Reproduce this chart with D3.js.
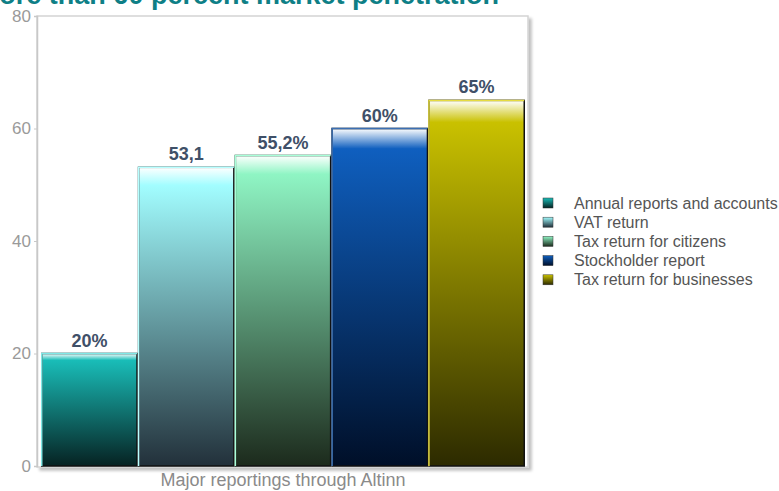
<!DOCTYPE html>
<html>
<head>
<meta charset="utf-8">
<script src="https://cdn.jsdelivr.net/npm/d3@7"></script>
<style>
  body { margin: 0; background: #fff; }
  text { font-family: "Liberation Sans", Arial, sans-serif; }
</style>
</head>
<body>
<svg id="chart" width="779" height="491"></svg>
<script>
// data
const categories = ['Annual reports and accounts', 'VAT return', 'Tax return for citizens', 'Stockholder report', 'Tax return for businesses'];
const values = [20, 53.1, 55.2, 60, 65];
const valueLabels = ['20%', '53,1', '55,2%', '60%', '65%'];
const yTicks = [0, 20, 40, 60, 80];
const xTitle = 'Major reportings through Altinn';
const chartTitle = 'More than 60 percent market penetration';

// colour per bar: top, bottom, edge
const colors = [
	{top: '#19bdb8', bottom: '#062222', edge: '#7fe8e6'},
	{top: '#a2fdff', bottom: '#22303a', edge: '#b8ffff'},
	{top: '#8ff5c4', bottom: '#1c2a1c', edge: '#a8ffd8'},
	{top: '#0f5fbf', bottom: '#000f28', edge: '#3b6fb3'},
	{top: '#c9c100', bottom: '#2c2a00', edge: '#e6dc40'}
];

const svg = d3.select('#chart');
const margin = {left: 37, right: 528, top: 16, bottom: 466};

const x = d3.scaleBand().domain(categories).range([41, 525]).padding(0);
const y = d3.scaleLinear().domain([0, 80]).range([margin.bottom, margin.top]);

const defs = svg.append('defs');
colors.forEach((c, i) => {
	let g = defs.append('linearGradient').attr('id', 'g' + i)
		.attr('x1', 0).attr('y1', 0).attr('x2', 0).attr('y2', 1);
	g.append('stop').attr('offset', 0).attr('stop-color', '#ffffff');
	g.append('stop').attr('offset', 0.06).attr('stop-color', c.top);
	g.append('stop').attr('offset', 1).attr('stop-color', c.bottom);

	let lg = defs.append('linearGradient').attr('id', 'lg' + i)
		.attr('x1', 0).attr('y1', 0).attr('x2', 0).attr('y2', 1);
	lg.append('stop').attr('offset', 0).attr('stop-color', c.top);
	lg.append('stop').attr('offset', 1).attr('stop-color', c.bottom);
});

let shadow = defs.append('filter').attr('id', 'shadow').attr('x', '-5%').attr('y', '-5%').attr('width', '115%').attr('height', '115%');
shadow.append('feGaussianBlur').attr('in', 'SourceAlpha').attr('stdDeviation', 1.5);
shadow.append('feOffset').attr('dx', 3).attr('dy', 3).attr('result', 'b');
shadow.append('feComponentTransfer').append('feFuncA').attr('type', 'linear').attr('slope', 0.25);
let merge = shadow.append('feMerge');
merge.append('feMergeNode');
merge.append('feMergeNode').attr('in', 'SourceGraphic');

// title, its top is cut off by the edge as in the picture
svg.append('text')
	.attr('x', 499).attr('y', 4)
	.attr('text-anchor', 'end')
	.attr('font-size', 27).attr('font-weight', 'bold')
	.attr('fill', '#0e7f86')
	.text(chartTitle);

// plot frame
svg.append('rect')
	.attr('x', margin.left).attr('y', margin.top)
	.attr('width', margin.right - margin.left).attr('height', margin.bottom - margin.top + 1)
	.attr('fill', '#fff').attr('stroke', '#d4d4d4').attr('stroke-width', 1.5)
	.attr('filter', 'url(#shadow)');

// y axis
const yAxis = svg.append('g')
	.attr('transform', 'translate(' + margin.left + ',0)')
	.call(d3.axisLeft(y).tickValues(yTicks).tickSize(3).tickPadding(3));
yAxis.select('.domain').attr('stroke', '#c8c8c8').attr('stroke-width', 1.5);
yAxis.selectAll('.tick line').attr('stroke', '#c8c8c8');
yAxis.selectAll('text').attr('font-size', 17).attr('fill', '#9a9a9a')
	.attr('font-family', '"Liberation Sans", Arial, sans-serif');

// bars
svg.append('g').selectAll('rect')
	.data(values)
	.join('rect')
	.attr('x', (d, i) => x(categories[i]) + 0.75)
	.attr('y', d => y(d))
	.attr('width', x.bandwidth() - 1.5)
	.attr('height', d => y(0) - y(d))
	.attr('fill', (d, i) => 'url(#g' + i + ')')
	.attr('stroke', '#111')
	.attr('stroke-width', 1.5);

// light edge at the top and left of each bar
svg.append('g').selectAll('path')
	.data(values)
	.join('path')
	.attr('d', (d, i) => {
		let x0 = x(categories[i]) + 0.75;
		let x1 = x0 + x.bandwidth() - 1.5;
		return 'M' + x0 + ',' + y(0) + 'V' + y(d) + 'H' + x1;
	})
	.attr('fill', 'none')
	.attr('stroke', (d, i) => colors[i].edge)
	.attr('stroke-width', 1.5);

// value labels
svg.append('g').selectAll('text')
	.data(values)
	.join('text')
	.attr('x', (d, i) => x(categories[i]) + x.bandwidth() / 2)
	.attr('y', d => y(d) - 7)
	.attr('text-anchor', 'middle')
	.attr('font-size', 18).attr('font-weight', 'bold')
	.attr('fill', '#3f5068')
	.text((d, i) => valueLabels[i]);

// x title
svg.append('text')
	.attr('x', 283).attr('y', 486)
	.attr('text-anchor', 'middle')
	.attr('font-size', 18).attr('fill', '#8a8a8a')
	.text(xTitle);

// legend
const legend = svg.append('g').attr('transform', 'translate(543,198)');
const row = legend.selectAll('g').data(categories).join('g')
	.attr('transform', (d, i) => 'translate(0,' + (i * 19.2) + ')');
row.append('rect')
	.attr('width', 10).attr('height', 10)
	.attr('fill', (d, i) => 'url(#lg' + i + ')')
	.attr('stroke', '#333').attr('stroke-width', 0.5);
row.append('text')
	.attr('x', 31).attr('y', 10.5)
	.attr('font-size', 16).attr('fill', '#555')
	.text(d => d);
</script>
</body>
</html>
